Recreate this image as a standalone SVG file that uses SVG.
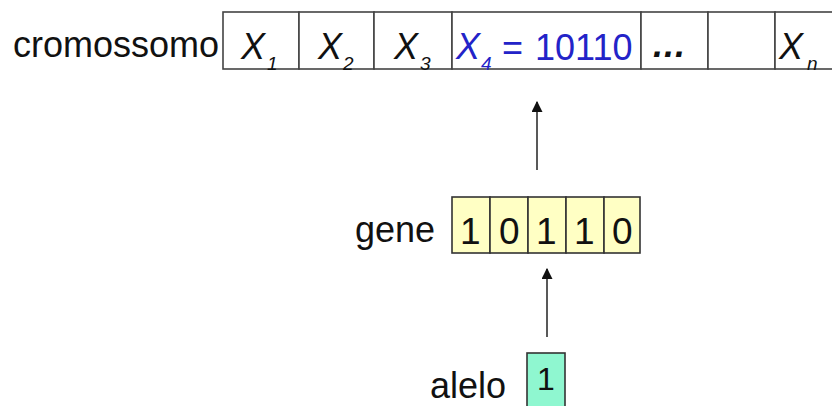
<svg xmlns="http://www.w3.org/2000/svg" width="832" height="406" viewBox="0 0 832 406">
<style>
text{font-family:"Liberation Sans",Arial,sans-serif;fill:#111}
.lbl{font-size:36px}
.cell{fill:#fff;stroke:#444;stroke-width:1.6}
.gcell{fill:#FFFFC4;stroke:#333;stroke-width:1.6}
.acell{fill:#8FF7D0;stroke:#333;stroke-width:1.6}
.x{font-size:36px;font-style:italic}
.sub{font-size:19px;font-style:italic}
.blue{fill:#2323C8}
.d{font-size:37px}
.conn{stroke:#222;stroke-width:1.5;fill:none}
</style>
<defs>
<marker id="ah" viewBox="0 0 10 10" refX="9" refY="5" markerWidth="11" markerHeight="11" markerUnits="userSpaceOnUse" orient="auto">
<path d="M0,0 L10,5 L0,10 z" fill="#111"/>
</marker>
</defs>
<g id="cromossomo">
<text class="lbl" x="13" y="57">cromossomo</text>
<rect class="cell" x="223" y="12" width="76" height="57"/>
<rect class="cell" x="299" y="12" width="75" height="57"/>
<rect class="cell" x="374" y="12" width="78" height="57"/>
<rect class="cell" x="452" y="12" width="189" height="57"/>
<rect class="cell" x="641" y="12" width="67" height="57"/>
<rect class="cell" x="708" y="12" width="67" height="57"/>
<rect class="cell" x="775" y="12" width="70" height="57"/>
<text class="x" x="241" y="59">X</text><text class="sub" x="267" y="70">1</text>
<text class="x" x="318" y="59">X</text><text class="sub" x="343" y="70">2</text>
<text class="x" x="394" y="59">X</text><text class="sub" x="420" y="70">3</text>
<text class="x blue" x="456" y="59">X</text><text class="sub blue" x="481" y="70">4</text>
<text class="d blue" x="502" y="60" style="font-size:36px">=</text>
<text class="d blue" x="535" y="60" style="font-size:36px">10110</text>
<text x="653" y="57" style="font-size:36px;font-weight:bold;font-style:italic;letter-spacing:1px">...</text>
<text class="x" x="779" y="59">X</text><text class="sub" x="807" y="70">n</text>
</g>
<g id="gene">
<text class="lbl" x="355" y="242">gene</text>
<rect class="gcell" x="452" y="197" width="38" height="56"/>
<rect class="gcell" x="490" y="197" width="38" height="56"/>
<rect class="gcell" x="528" y="197" width="38" height="56"/>
<rect class="gcell" x="566" y="197" width="38" height="56"/>
<rect class="gcell" x="604" y="197" width="36" height="56"/>
<text class="d" x="460" y="244">1</text>
<text class="d" x="499" y="244">0</text>
<text class="d" x="536" y="244">1</text>
<text class="d" x="574" y="244">1</text>
<text class="d" x="612" y="244">0</text>
</g>
<g id="alelo">
<text class="lbl" x="430" y="398">alelo</text>
<rect class="acell" x="527" y="353" width="38" height="60"/>
<text x="537" y="390" style="font-size:32px">1</text>
</g>
<g id="connectors">
<line class="conn" x1="537" y1="170" x2="537" y2="102" marker-end="url(#ah)"/>
<line class="conn" x1="547" y1="337" x2="547" y2="269" marker-end="url(#ah)"/>
</g>
</svg>
